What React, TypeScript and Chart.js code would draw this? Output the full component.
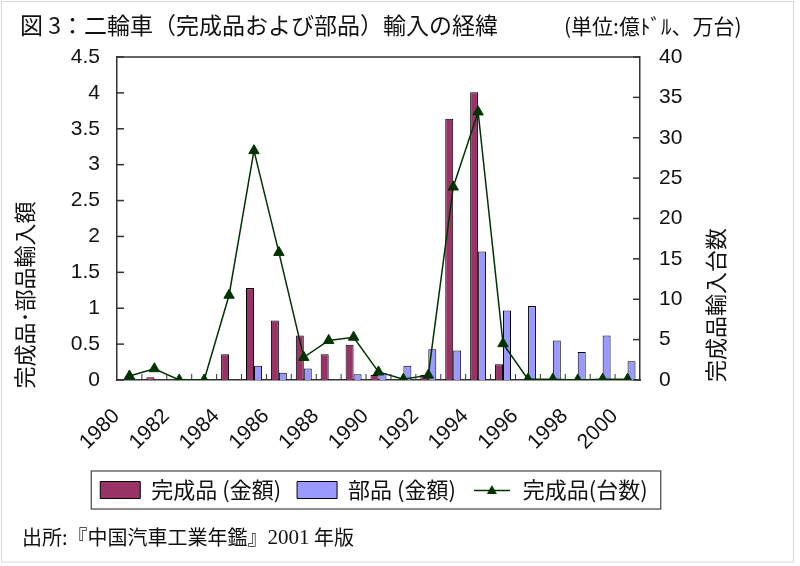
import React, { useEffect, useRef } from 'react';
import { Chart, registerables } from 'chart.js';

Chart.register(...registerables);

const years = ['1980', '1981', '1982', '1983', '1984', '1985', '1986', '1987', '1988', '1989', '1990',
  '1991', '1992', '1993', '1994', '1995', '1996', '1997', '1998', '1999', '2000'];
// 完成品（金額）億ドル
const finishedAmount = [0, 0.04, 0, 0, 0.36, 1.28, 0.83, 0.62, 0.36, 0.49, 0.07,
  0, 0.07, 3.64, 4.01, 0.22, 0, 0, 0, 0, 0];
// 部品（金額）億ドル
const partsAmount = [0, 0, 0, 0, 0, 0.2, 0.1, 0.16, 0, 0.08, 0.1,
  0.2, 0.43, 0.41, 1.79, 0.97, 1.03, 0.55, 0.39, 0.62, 0.26];
// 完成品（台数）万台
const finishedUnits = [0.5, 1.4, 0, 0, 10.5, 28.4, 15.8, 2.8, 4.9, 5.3, 1.0,
  0.1, 0.6, 23.9, 33.2, 4.5, 0.1, 0.1, 0, 0.1, 0.1];

const legendLabels = ['完成品 (金額)', '部品 (金額)', '完成品(台数)'];
const titleText = '図 3：二輪車（完成品および部品）輸入の経緯';
const unitText = '(単位:億ﾄﾞﾙ、万台)';
const leftAxisTitle = '完成品･部品輸入額';
const rightAxisTitle = '完成品輸入台数';
const sourcePre = '出所:『中国汽車工業年鑑』';
const sourceYear = '2001';
const sourcePost = ' 年版';

const RED = '#993366';
const BLUE = '#9999ff';
const GREEN = '#003300';
const AXIS = '#333333';
const CJK = '"Noto Sans CJK JP", sans-serif';
const NUM = '"Liberation Sans", Arial, sans-serif';

function makeLineIcon(): HTMLCanvasElement {
  const c = document.createElement('canvas');
  c.width = 36;
  c.height = 14;
  const g = c.getContext('2d')!;
  g.strokeStyle = GREEN;
  g.lineWidth = 1.5;
  g.beginPath();
  g.moveTo(0, 7.5);
  g.lineTo(36, 7.5);
  g.stroke();
  g.fillStyle = GREEN;
  g.beginPath();
  g.moveTo(18, 2);
  g.lineTo(23, 11);
  g.lineTo(13, 11);
  g.closePath();
  g.fill();
  return c;
}

const decorPlugin = {
  id: 'decor',
  afterDraw(chart: any) {
    const { ctx, chartArea: a, scales } = chart;
    const xs = scales.x;
    const yl = scales.y;
    const yr = scales.y1;
    ctx.save();
    const seg = (x1: number, y1: number, x2: number, y2: number) => {
      ctx.beginPath();
      ctx.moveTo(x1, y1);
      ctx.lineTo(x2, y2);
      ctx.stroke();
    };
    // frame top + inside ticks
    ctx.strokeStyle = AXIS;
    ctx.lineWidth = 1.5;
    seg(a.left, a.top, a.right, a.top);
    yl.ticks.forEach((_: any, i: number) => {
      const p = yl.getPixelForTick(i);
      seg(a.left, p, a.left + 7, p);
    });
    yr.ticks.forEach((_: any, i: number) => {
      const p = yr.getPixelForTick(i);
      seg(a.right - 7, p, a.right, p);
    });
    ctx.lineWidth = 1;
    for (let i = 1; i < years.length; i++) {
      const p = (xs.getPixelForValue(i - 1) + xs.getPixelForValue(i)) / 2;
      seg(p, a.bottom - 6, p, a.bottom);
    }

    // legend border
    const boxes = chart.legend && chart.legend.legendHitBoxes;
    if (boxes && boxes.length) {
      let l = Infinity, r = -Infinity, t = Infinity, b = -Infinity;
      boxes.forEach((h: any) => {
        l = Math.min(l, h.left);
        r = Math.max(r, h.left + h.width);
        t = Math.min(t, h.top);
        b = Math.max(b, h.top + h.height);
      });
      ctx.strokeStyle = '#444';
      ctx.lineWidth = 1.2;
      ctx.strokeRect(l - 9, t - 8, r - l + 22, b - t + 16);
    }

    // texts
    ctx.fillStyle = '#111';
    ctx.textBaseline = 'middle';
    ctx.textAlign = 'left';
    ctx.font = `23px ${CJK}`;
    ctx.fillText(titleText, 20, 25);
    ctx.font = `21px ${CJK}`;
    ctx.fillText(unitText, 564, 26);

    // axis titles
    ctx.font = `22px ${CJK}`;
    ctx.textAlign = 'center';
    ctx.save();
    ctx.translate(25, 295);
    ctx.rotate(-Math.PI / 2);
    ctx.fillText(leftAxisTitle, 0, 0);
    ctx.restore();
    ctx.save();
    ctx.translate(716, 305);
    ctx.rotate(-Math.PI / 2);
    ctx.fillText(rightAxisTitle, 0, 0);
    ctx.restore();

    // source note
    ctx.textAlign = 'left';
    let x = 22;
    const y = 537;
    ctx.font = `20px ${CJK}`;
    ctx.fillText(sourcePre, x, y);
    x += ctx.measureText(sourcePre).width;
    ctx.font = '21px "Liberation Serif", serif';
    ctx.fillText(sourceYear, x, y + 1);
    x += ctx.measureText(sourceYear).width;
    ctx.font = `20px ${CJK}`;
    ctx.fillText(sourcePost, x, y);

    // outer light frame
    ctx.strokeStyle = '#d8d8d8';
    ctx.lineWidth = 1;
    ctx.strokeRect(1.5, 1.5, 792, 560.5);
    ctx.restore();
  },
};

export default function App() {
  const ref = useRef<HTMLCanvasElement | null>(null);

  useEffect(() => {
    document.body.style.margin = '0';
    const canvas = ref.current;
    if (!canvas) return;
    const lineIcon = makeLineIcon();
    const axisBorder = { display: true, color: AXIS, width: 1.5 };
    const tickFont = { family: NUM, size: 21 };

    const chart = new Chart(canvas, {
      type: 'bar',
      data: {
        labels: years,
        datasets: [
          {
            type: 'bar',
            label: legendLabels[0],
            data: finishedAmount,
            backgroundColor: RED,
            borderColor: '#000',
            borderWidth: 1,
            yAxisID: 'y',
            categoryPercentage: 0.64,
            barPercentage: 1,
            order: 2,
          },
          {
            type: 'bar',
            label: legendLabels[1],
            data: partsAmount,
            backgroundColor: BLUE,
            borderColor: '#000',
            borderWidth: 1,
            yAxisID: 'y',
            categoryPercentage: 0.64,
            barPercentage: 1,
            order: 2,
          },
          {
            type: 'line',
            label: legendLabels[2],
            data: finishedUnits,
            yAxisID: 'y1',
            borderColor: GREEN,
            backgroundColor: GREEN,
            borderWidth: 1.5,
            pointStyle: 'triangle',
            pointRadius: 6,
            pointBackgroundColor: GREEN,
            pointBorderColor: GREEN,
            pointBorderWidth: 1,
            tension: 0,
            order: 1,
          },
        ] as any,
      },
      options: {
        responsive: false,
        animation: false,
        events: [],
        layout: { padding: { top: 57, left: 0, right: 52, bottom: 55 } },
        plugins: {
          title: { display: false },
          tooltip: { enabled: false },
          legend: {
            position: 'bottom',
            align: 'center',
            labels: {
              usePointStyle: true,
              pointStyleWidth: 40,
              boxWidth: 40,
              boxHeight: 17,
              padding: 16,
              color: '#111',
              font: { family: CJK, size: 22 },
              generateLabels: (c: any) =>
                c.data.datasets.map((ds: any, i: number) => ({
                  text: ds.label,
                  fillStyle: ds.backgroundColor,
                  strokeStyle: i === 2 ? GREEN : '#000',
                  lineWidth: 1,
                  pointStyle: i === 2 ? lineIcon : 'rect',
                  hidden: false,
                  datasetIndex: i,
                  fontColor: '#111',
                })),
            },
          },
        },
        scales: {
          x: {
            grid: { display: false, drawTicks: false },
            border: axisBorder,
            ticks: {
              autoSkip: false,
              minRotation: 45,
              maxRotation: 45,
              labelOffset: -13,
              padding: 24,
              color: '#111',
              font: tickFont,
              callback: (_v: any, i: number) => (i % 2 === 0 ? years[i] : ''),
            },
            afterFit: (s: any) => {
              s.height = 83;
            },
          },
          y: {
            position: 'left',
            min: 0,
            max: 4.5,
            grid: { display: false, drawTicks: false },
            border: axisBorder,
            ticks: {
              stepSize: 0.5,
              padding: 17,
              color: '#111',
              font: tickFont,
              callback: (v: any) => String(v),
            },
            afterFit: (s: any) => {
              s.width = 117;
            },
          },
          y1: {
            position: 'right',
            min: 0,
            max: 40,
            grid: { display: false, drawTicks: false },
            border: axisBorder,
            ticks: {
              stepSize: 5,
              padding: 19,
              color: '#111',
              font: tickFont,
              callback: (v: any) => String(v),
            },
            afterFit: (s: any) => {
              s.width = 108;
            },
          },
        },
      } as any,
      plugins: [decorPlugin],
    });

    return () => chart.destroy();
  }, []);

  return (
    <div style={{ width: 800, height: 566, background: '#fff' }}>
      <canvas ref={ref} width={800} height={566} style={{ display: 'block' }} />
    </div>
  );
}
